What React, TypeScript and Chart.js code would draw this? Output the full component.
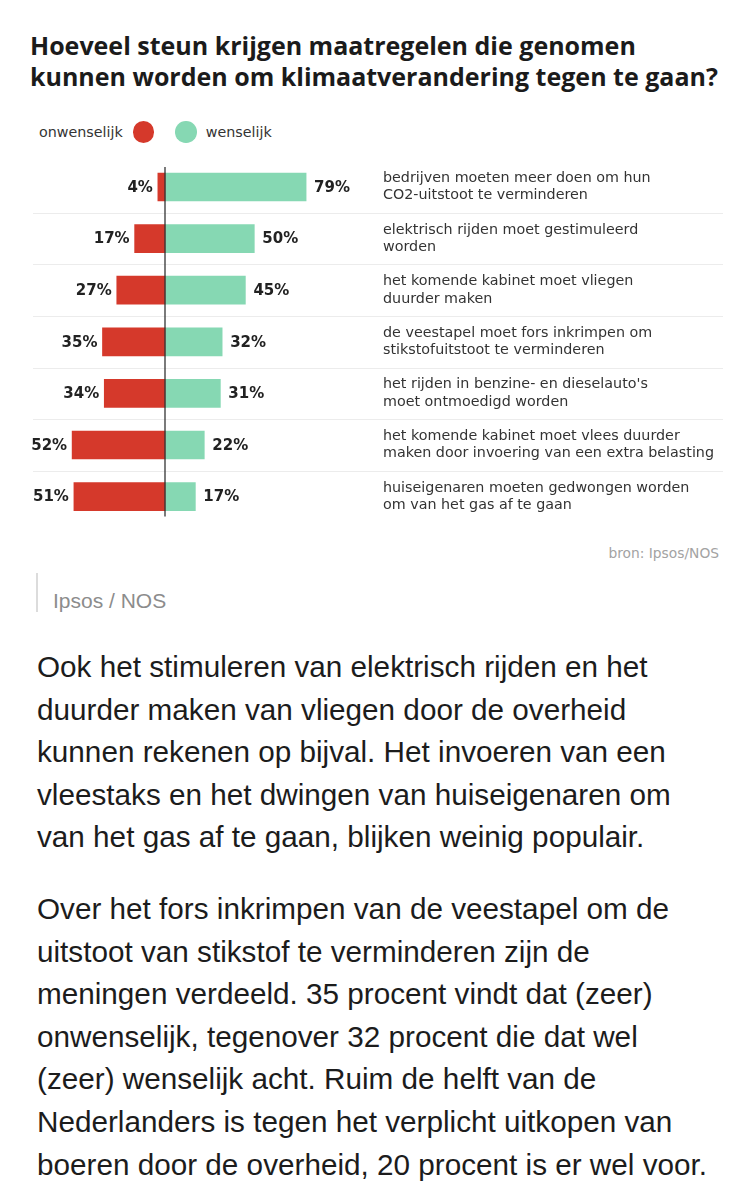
import React, { useEffect, useRef } from "react";
import { Chart, registerables } from "chart.js";

Chart.register(...registerables);

if (typeof document !== "undefined") {
  document.body.style.margin = "0";
  document.body.style.background = "#ffffff";
}

const TITLE_LINES = [
  "Hoeveel steun krijgen maatregelen die genomen",
  "kunnen worden om klimaatverandering tegen te gaan?",
];

const SERIES_NAMES = ["onwenselijk", "wenselijk"];

const CATEGORY_LINES: string[][] = [
  ["bedrijven moeten meer doen om hun", "CO2-uitstoot te verminderen"],
  ["elektrisch rijden moet gestimuleerd", "worden"],
  ["het komende kabinet moet vliegen", "duurder maken"],
  ["de veestapel moet fors inkrimpen om", "stikstofuitstoot te verminderen"],
  ["het rijden in benzine- en dieselauto's", "moet ontmoedigd worden"],
  ["het komende kabinet moet vlees duurder", "maken door invoering van een extra belasting"],
  ["huiseigenaren moeten gedwongen worden", "om van het gas af te gaan"],
];

const ONWENSELIJK = [4, 17, 27, 35, 34, 52, 51];
const WENSELIJK = [79, 50, 45, 32, 31, 22, 17];

const SOURCE_TEXT = "bron: Ipsos/NOS";
const CAPTION_TEXT = "Ipsos / NOS";

const PARAGRAPH_1 = [
  "Ook het stimuleren van elektrisch rijden en het",
  "duurder maken van vliegen door de overheid",
  "kunnen rekenen op bijval. Het invoeren van een",
  "vleestaks en het dwingen van huiseigenaren om",
  "van het gas af te gaan, blijken weinig populair.",
];

const PARAGRAPH_2 = [
  "Over het fors inkrimpen van de veestapel om de",
  "uitstoot van stikstof te verminderen zijn de",
  "meningen verdeeld. 35 procent vindt dat (zeer)",
  "onwenselijk, tegenover 32 procent die dat wel",
  "(zeer) wenselijk acht. Ruim de helft van de",
  "Nederlanders is tegen het verplicht uitkopen van",
  "boeren door de overheid, 20 procent is er wel voor.",
];

const RED = "#d5392b";
const GREEN = "#86d8b3";
const LABEL_FONT = "'DejaVu Sans', sans-serif";

const overlayPlugin = {
  id: "overlay",
  beforeDatasetsDraw(chart: any) {
    const { ctx, chartArea, scales } = chart;
    const y = scales.y;
    ctx.save();
    ctx.strokeStyle = "#ececec";
    ctx.lineWidth = 1;
    for (let i = 0; i < CATEGORY_LINES.length - 1; i++) {
      const yy = Math.round((y.getPixelForValue(i) + y.getPixelForValue(i + 1)) / 2) + 0.5;
      ctx.beginPath();
      ctx.moveTo(chartArea.left, yy);
      ctx.lineTo(chartArea.right, yy);
      ctx.stroke();
    }
    ctx.restore();
  },
  afterDatasetsDraw(chart: any) {
    const { ctx, chartArea, scales } = chart;
    const x = scales.x;
    const y = scales.y;
    ctx.save();
    // zero line
    const x0 = x.getPixelForValue(0);
    ctx.strokeStyle = "#333333";
    ctx.lineWidth = 1.3;
    ctx.beginPath();
    ctx.moveTo(x0, y.getPixelForValue(0) - 20);
    ctx.lineTo(x0, y.getPixelForValue(CATEGORY_LINES.length - 1) + 20);
    ctx.stroke();

    // value labels
    ctx.font = `bold 15px ${LABEL_FONT}`;
    ctx.fillStyle = "#222222";
    ctx.textBaseline = "middle";
    chart.data.datasets.forEach((ds: any, di: number) => {
      const meta = chart.getDatasetMeta(di);
      meta.data.forEach((el: any, i: number) => {
        const v = ds.data[i];
        const txt = `${Math.abs(v)}%`;
        if (v < 0) {
          ctx.textAlign = "right";
          ctx.fillText(txt, el.x - 5, el.y + 1);
        } else {
          ctx.textAlign = "left";
          ctx.fillText(txt, el.x + 8, el.y + 1);
        }
      });
    });

    // category labels
    ctx.font = `14.3px ${LABEL_FONT}`;
    ctx.fillStyle = "#333333";
    ctx.textAlign = "left";
    const lx = chartArea.left + 350;
    CATEGORY_LINES.forEach((lines, i) => {
      const cy = y.getPixelForValue(i);
      const lh = 17.5;
      const start = cy - ((lines.length - 1) * lh) / 2;
      lines.forEach((t, j) => {
        ctx.fillText(t, lx, start + j * lh);
      });
    });
    ctx.restore();
  },
};

function DivergingChart() {
  const ref = useRef<HTMLCanvasElement | null>(null);
  useEffect(() => {
    if (!ref.current) return;
    const chart = new Chart(ref.current, {
      type: "bar",
      data: {
        labels: CATEGORY_LINES.map((l) => l.join(" ")),
        datasets: [
          {
            label: SERIES_NAMES[0],
            data: ONWENSELIJK.map((v) => -v),
            backgroundColor: RED,
            borderWidth: 0,
            barThickness: 28,
          },
          {
            label: SERIES_NAMES[1],
            data: WENSELIJK,
            backgroundColor: GREEN,
            borderWidth: 0,
            barThickness: 28,
          },
        ],
      },
      options: {
        indexAxis: "y",
        responsive: false,
        animation: false,
        layout: { padding: { left: 33, right: 27, top: 11.2, bottom: 17.6 } },
        plugins: {
          legend: { display: false },
          tooltip: { enabled: false },
        },
        scales: {
          x: { display: false, stacked: true, min: -73.9, max: 312.4 },
          y: { display: false, stacked: true },
        },
      },
      plugins: [overlayPlugin],
    });
    return () => chart.destroy();
  }, []);
  return (
    <canvas
      ref={ref}
      width={750}
      height={390}
      style={{ position: "absolute", left: 0, top: 150, width: 750, height: 390 }}
    />
  );
}

export default function App() {
  const paraStyle: React.CSSProperties = {
    position: "absolute",
    left: 37,
    fontFamily: "'Liberation Sans', Arial, sans-serif",
    fontSize: 29.7,
    lineHeight: "42.6px",
    color: "#1c1c1c",
    whiteSpace: "nowrap",
  };
  return (
    <div style={{ position: "relative", width: 750, height: 1200, background: "#fff", overflow: "hidden" }}>
      <div
        style={{
          position: "absolute",
          left: 30,
          top: 30,
          fontFamily: "'Open Sans', sans-serif",
          fontWeight: 700,
          fontSize: 25,
          lineHeight: "30.5px",
          color: "#1b1b1b",
          whiteSpace: "nowrap",
        }}
      >
        {TITLE_LINES.map((t, i) => (
          <div key={i}>{t}</div>
        ))}
      </div>
      <div
        style={{
          position: "absolute",
          left: 39,
          top: 121,
          height: 22,
          display: "flex",
          alignItems: "center",
          fontFamily: LABEL_FONT,
          fontSize: 14.3,
          color: "#333",
        }}
      >
        <span>{SERIES_NAMES[0]}</span>
        <span
          style={{ display: "inline-block", width: 21.5, height: 21.5, borderRadius: "50%", background: RED, marginLeft: 10 }}
        />
        <span
          style={{ display: "inline-block", width: 21.5, height: 21.5, borderRadius: "50%", background: GREEN, marginLeft: 21 }}
        />
        <span style={{ marginLeft: 9 }}>{SERIES_NAMES[1]}</span>
      </div>
      <DivergingChart />
      <div
        style={{
          position: "absolute",
          right: 31,
          top: 543,
          fontFamily: LABEL_FONT,
          fontSize: 13.8,
          lineHeight: "20px",
          color: "#a3a3a3",
        }}
      >
        {SOURCE_TEXT}
      </div>
      <div style={{ position: "absolute", left: 36, top: 573, width: 1.5, height: 39, background: "#dcdcdc" }} />
      <div
        style={{
          position: "absolute",
          left: 53,
          top: 589,
          fontFamily: "'Liberation Sans', Arial, sans-serif",
          fontSize: 21,
          lineHeight: "24px",
          color: "#8c8c8c",
        }}
      >
        {CAPTION_TEXT}
      </div>
      <div style={{ ...paraStyle, top: 646 }}>
        {PARAGRAPH_1.map((t, i) => (
          <div key={i}>{t}</div>
        ))}
      </div>
      <div style={{ ...paraStyle, top: 888 }}>
        {PARAGRAPH_2.map((t, i) => (
          <div key={i}>{t}</div>
        ))}
      </div>
    </div>
  );
}
